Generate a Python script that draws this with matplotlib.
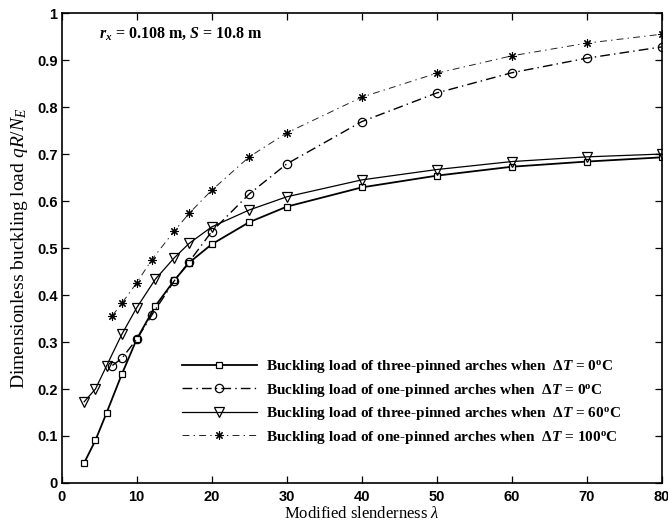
import matplotlib
matplotlib.use("Agg")
import matplotlib.pyplot as plt

# slenderness values for each series
x_three_0 = [3, 4.5, 6, 8, 10, 12.5, 15, 17, 20, 25, 30, 40, 50, 60, 70, 80]
y_three_0 = [0.043, 0.091, 0.150, 0.231, 0.306, 0.377, 0.431, 0.469, 0.508, 0.555,
             0.588, 0.629, 0.654, 0.673, 0.684, 0.693]

x_one_0 = [6.75, 8, 10, 12, 15, 17, 20, 25, 30, 40, 50, 60, 70, 80]
y_one_0 = [0.250, 0.265, 0.306, 0.357, 0.430, 0.471, 0.535, 0.615, 0.679, 0.769,
           0.830, 0.873, 0.904, 0.928]

x_three_60 = [3, 4.5, 6, 8, 10, 12.5, 15, 17, 20, 25, 30, 40, 50, 60, 70, 80]
y_three_60 = [0.173, 0.200, 0.250, 0.316, 0.373, 0.434, 0.479, 0.510, 0.545, 0.581,
              0.609, 0.645, 0.667, 0.684, 0.694, 0.700]

x_one_100 = [6.75, 8, 10, 12, 15, 17, 20, 25, 30, 40, 50, 60, 70, 80]
y_one_100 = [0.356, 0.382, 0.426, 0.475, 0.536, 0.574, 0.623, 0.694, 0.745, 0.821,
             0.872, 0.909, 0.936, 0.955]

labels = [
    r'Buckling load of three-pinned arches when  Δ$\mathbfit{T}$ = 0$^{\mathbf{o}}$C',
    r'Buckling load of one-pinned arches when  Δ$\mathbfit{T}$ = 0$^{\mathbf{o}}$C',
    r'Buckling load of three-pinned arches when  Δ$\mathbfit{T}$ = 60$^{\mathbf{o}}$C',
    r'Buckling load of one-pinned arches when  Δ$\mathbfit{T}$ = 100$^{\mathbf{o}}$C',
]

plt.rcParams['font.family'] = ['Liberation Serif', 'DejaVu Serif']
plt.rcParams['mathtext.fontset'] = 'custom'
plt.rcParams['mathtext.rm'] = 'Liberation Serif'
plt.rcParams['mathtext.it'] = 'Liberation Serif:italic'
plt.rcParams['mathtext.bf'] = 'Liberation Serif:bold'
plt.rcParams['mathtext.bfit'] = 'Liberation Serif:italic:bold'
plt.rcParams['lines.scale_dashes'] = False

fig = plt.figure(figsize=(6.68, 5.23), dpi=100)
ax = fig.add_axes([0.0924, 0.0765, 0.8982, 0.8985])

ax.plot(x_three_0, y_three_0, '-', color='black', lw=1.3, marker='s', ms=5,
        mfc='white', mec='black', mew=0.9, label=labels[0])
ax.plot(x_one_0, y_one_0, color='black', lw=1.0, ls=(0, (7, 3, 1, 3)), marker='o', ms=6,
        mfc='none', mec='black', mew=0.9, label=labels[1])
ax.plot(x_three_60, y_three_60, '-', color='black', lw=0.9, marker='v', ms=6.5,
        mfc='none', mec='black', mew=0.9, label=labels[2])
ax.plot(x_one_100, y_one_100, color='#222222', lw=0.7, ls=(0, (5, 3, 1, 3)), marker=(8, 2, 0), ms=6,
        mec='black', mew=0.8, label=labels[3])

ax.set_xlim(0, 80)
ax.set_ylim(0, 1)
ax.set_xticks(range(0, 81, 10))
ax.set_yticks([0, 0.1, 0.2, 0.3, 0.4, 0.5, 0.6, 0.7, 0.8, 0.9, 1])
ax.set_yticklabels(['0', '0.1', '0.2', '0.3', '0.4', '0.5', '0.6', '0.7', '0.8', '0.9', '1'])
ax.tick_params(direction='in', top=True, right=True, length=5, width=0.9)
ax.tick_params(axis='x', pad=5)
ax.tick_params(axis='y', pad=3)
for lab in ax.get_xticklabels() + ax.get_yticklabels():
    lab.set_fontfamily('Liberation Sans')
    lab.set_fontweight('bold')
    lab.set_fontsize(10.5)
for sp in ax.spines.values():
    sp.set_linewidth(1.2)

ax.set_xlabel(r'Modified slenderness $\lambda$', fontsize=12)
ax.xaxis.set_label_coords(0.5, -0.048)
ax.set_ylabel(r'Dimensionless buckling load $qR/N_E$', fontsize=14)
ax.yaxis.set_label_coords(-0.053, 0.5)

ax.text(5.0, 0.957, r'$\mathbfit{r}_{\mathbfit{x}}$ = 0.108 m, $\mathbfit{S}$ = 10.8 m',
        fontsize=11.5, fontweight='bold', va='center', ha='left')

ax.legend(loc='upper left', bbox_to_anchor=(182 / 668, 1 - 358 / 523),
          bbox_transform=fig.transFigure, frameon=False,
          prop={'family': 'Liberation Serif', 'weight': 'bold', 'size': 11},
          handlelength=4.9, handletextpad=0.6, labelspacing=0.43, borderpad=0.0,
          borderaxespad=0.0)

fig.savefig('out.png', dpi=100)
